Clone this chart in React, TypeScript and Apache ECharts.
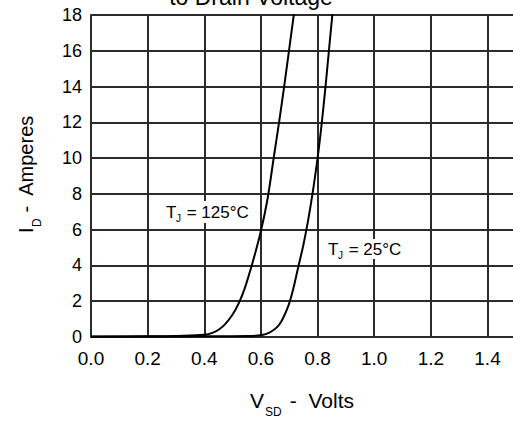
import React, { useEffect, useRef } from "react";
import * as echarts from "echarts";

// Source-to-drain diode forward voltage (V) and drain current (A)
const vsd125 = [0, 0.2, 0.3, 0.4, 0.453, 0.5, 0.535, 0.565, 0.598, 0.622, 0.645, 0.664, 0.682, 0.699, 0.716, 0.722];
const id125 = [0.03, 0.04, 0.06, 0.12, 0.43, 1.26, 2.38, 3.86, 5.8, 7.6, 10, 12, 14, 16, 18, 18.7];

const vsd25 = [0, 0.2, 0.4, 0.55, 0.6, 0.63, 0.665, 0.694, 0.712, 0.731, 0.75, 0.766, 0.782, 0.8, 0.815, 0.828, 0.84, 0.852, 0.856];
const id25 = [0.02, 0.03, 0.04, 0.06, 0.1, 0.24, 0.7, 1.63, 2.56, 3.86, 5.16, 6.46, 8, 10, 12, 14, 16, 18, 18.7];

// visible x range is cut at the right edge of the picture
const xMin = 0;
const xMax = 1.49;
const yTicks = [0, 2, 4, 6, 8, 10, 12, 14, 16, 18];

const FONT = "'Liberation Sans', Arial, Helvetica, sans-serif";
const INK = "#000";
const GRIDC = "#2b2b2b";

export default function App() {
  const ref = useRef<HTMLDivElement>(null);
  useEffect(() => {
    document.body.style.margin = "0";
    if (!ref.current) return;
    const chart = echarts.init(ref.current, undefined, { renderer: "svg" });
    const pairs = (xs: number[], ys: number[]) => xs.map((x, i) => [x, ys[i]]);
    const txt = (x: number, y: number, text: string, size: number, extra: any = {}) => ({
      type: "text",
      x,
      y,
      z: 100,
      style: { text, font: `${size}px ${FONT}`, fill: INK, verticalAlign: "middle", ...extra },
    });
    chart.setOption({
      animation: false,
      backgroundColor: "#fff",
      grid: { left: 91, top: 15, right: 0, height: 322, containLabel: false },
      xAxis: {
        type: "value",
        min: xMin,
        max: xMax,
        interval: 0.2,
        axisLine: { show: true, lineStyle: { color: GRIDC, width: 2 } },
        axisTick: { show: false },
        splitLine: { show: true, showMaxLine: false, lineStyle: { color: GRIDC, width: 2 } },
        axisLabel: {
          formatter: (v: number) => v.toFixed(1),
          fontSize: 19,
          color: INK,
          fontFamily: FONT,
          margin: 12,
          showMaxLabel: false,
        },
      },
      yAxis: {
        type: "value",
        min: yTicks[0],
        max: yTicks[yTicks.length - 1],
        interval: 2,
        axisLine: { show: true, lineStyle: { color: GRIDC, width: 2 } },
        axisTick: { show: false },
        splitLine: { show: true, lineStyle: { color: GRIDC, width: 2 } },
        axisLabel: { fontSize: 18, color: INK, fontFamily: FONT, margin: 9 },
      },
      series: [
        {
          name: "TJ = 125°C",
          type: "line",
          data: pairs(vsd125, id125),
          showSymbol: false,
          smooth: 0.35,
          clip: true,
          lineStyle: { color: "#000", width: 2 },
        },
        {
          name: "TJ = 25°C",
          type: "line",
          data: pairs(vsd25, id25),
          showSymbol: false,
          smooth: 0.35,
          clip: true,
          lineStyle: { color: "#000", width: 2 },
        },
      ],
      graphic: [
        txt(251, -3, "to Drain Voltage", 23, { align: "center" }),
        // x axis name
        txt(250, 400, "V", 21),
        txt(265, 412, "SD", 12),
        txt(284, 400, " -  Volts", 21),
        // y axis name
        {
          type: "group",
          x: 26,
          y: 233,
          rotation: Math.PI / 2,
          children: [
            txt(0, 0, "I", 20),
            txt(6, 11, "D", 12),
            txt(15, 0, " -  Amperes", 20),
          ],
        },
        // annotations
        { type: "rect", z: 99, shape: { x: 163, y: 201, width: 90, height: 22 }, style: { fill: "#fff" } },
        txt(166, 212, "T", 17),
        txt(176, 218, "J", 10),
        txt(182, 212, " = 125°C", 17),
        { type: "rect", z: 99, shape: { x: 325, y: 239, width: 80, height: 20 }, style: { fill: "#fff" } },
        txt(328, 249, "T", 17),
        txt(338, 255, "J", 10),
        txt(344, 249, " = 25°C", 17),
      ],
    });
    return () => chart.dispose();
  }, []);
  return <div ref={ref} style={{ width: 513, height: 421 }} />;
}
